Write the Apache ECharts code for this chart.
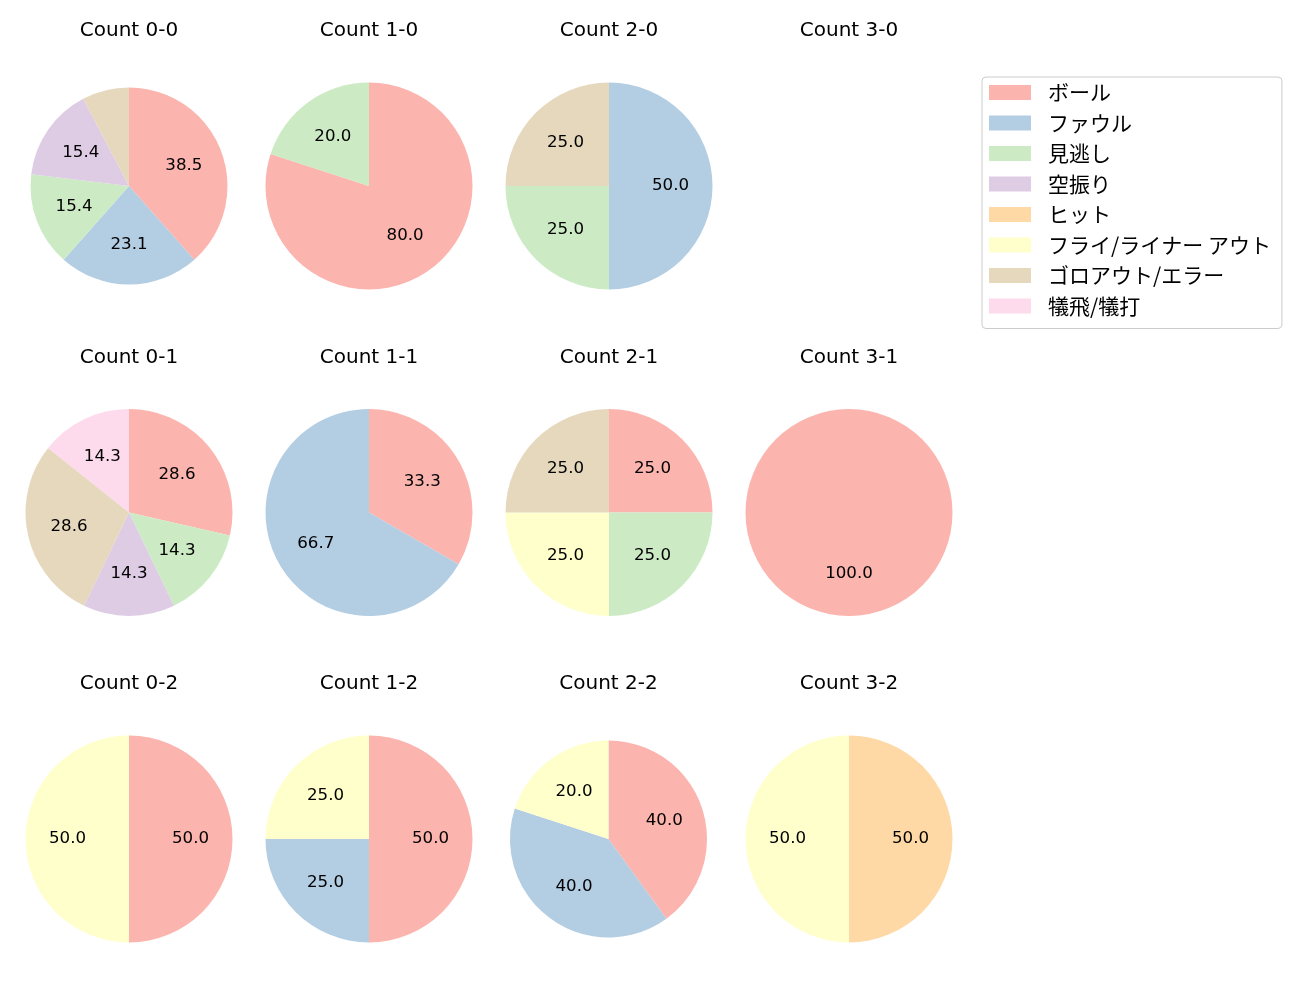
<!DOCTYPE html>
<html>
<head>
<meta charset="utf-8">
<script src="https://cdn.jsdelivr.net/npm/echarts@6/dist/echarts.min.js"></script>
<style>
  html, body { margin: 0; padding: 0; background: #fff; }
  #main { width: 1300px; height: 1000px; }
</style>
</head>
<body>
<div id="main"></div>
<script>
// 球種カテゴリ（凡例の順）
var categories = ['ボール', 'ファウル', '見逃し', '空振り', 'ヒット', 'フライ/ライナー アウト', 'ゴロアウト/エラー', '犠飛/犠打'];
var colors = ['#fbb4ae', '#b3cde3', '#ccebc5', '#decbe4', '#fed9a6', '#ffffcc', '#e5d8bd', '#fddaec'];

// 各カウントの件数（categories と同じ順）
var count00 = [5, 3, 2, 2, 0, 0, 1, 0];
var count10 = [4, 0, 1, 0, 0, 0, 0, 0];
var count20 = [0, 2, 1, 0, 0, 0, 1, 0];
var count30 = [0, 0, 0, 0, 0, 0, 0, 0];
var count01 = [2, 0, 1, 1, 0, 0, 2, 1];
var count11 = [1, 2, 0, 0, 0, 0, 0, 0];
var count21 = [1, 0, 1, 0, 0, 1, 1, 0];
var count31 = [1, 0, 0, 0, 0, 0, 0, 0];
var count02 = [1, 0, 0, 0, 0, 1, 0, 0];
var count12 = [2, 1, 0, 0, 0, 1, 0, 0];
var count22 = [2, 2, 0, 0, 0, 1, 0, 0];
var count32 = [0, 0, 0, 0, 1, 1, 0, 0];

var panels = [
  {title: 'Count 0-0', data: count00, x: 129, y: 186, r: 98.5},
  {title: 'Count 1-0', data: count10, x: 369, y: 186, r: 103.5},
  {title: 'Count 2-0', data: count20, x: 609, y: 186, r: 103.5},
  {title: 'Count 3-0', data: count30, x: 849, y: 186, r: 103.5},
  {title: 'Count 0-1', data: count01, x: 129, y: 512.5, r: 103.5},
  {title: 'Count 1-1', data: count11, x: 369, y: 512.5, r: 103.5},
  {title: 'Count 2-1', data: count21, x: 609, y: 512.5, r: 103.5},
  {title: 'Count 3-1', data: count31, x: 849, y: 512.5, r: 103.5},
  {title: 'Count 0-2', data: count02, x: 129, y: 839, r: 103.5},
  {title: 'Count 1-2', data: count12, x: 369, y: 839, r: 103.5},
  {title: 'Count 2-2', data: count22, x: 608.5, y: 839, r: 98.5},
  {title: 'Count 3-2', data: count32, x: 849, y: 839, r: 103.5}
];

var LATIN = '"DejaVu Sans", "Noto Sans CJK JP", sans-serif';
var CJK = '"Noto Sans CJK JP", "DejaVu Sans", sans-serif';

var titles = [];
var series = [];

panels.forEach(function (p) {
  var total = p.data.reduce(function (a, b) { return a + b; }, 0);
  var items = [];
  p.data.forEach(function (v, k) {
    if (v > 0) {
      items.push({name: categories[k], value: v, itemStyle: {color: colors[k]}});
    }
  });

  titles.push({
    text: p.title,
    left: p.x,
    top: p.y - 165,
    textAlign: 'center',
    padding: 0,
    textStyle: {fontFamily: LATIN, fontSize: 20, fontWeight: 'normal', color: '#000'}
  });

  if (!items.length) return;

  // 塗り
  series.push({
    type: 'pie',
    center: [p.x, p.y],
    radius: [0, p.r],
    startAngle: 90,
    clockwise: true,
    animation: false,
    silent: true,
    label: {show: false},
    labelLine: {show: false},
    itemStyle: {borderWidth: 0},
    emphasis: {disabled: true},
    data: items
  });

  // ラベル
  series.push({
    type: 'pie',
    center: [p.x, p.y],
    radius: [p.r * 0.13, p.r],
    startAngle: 90,
    clockwise: true,
    animation: false,
    silent: true,
    itemStyle: {color: 'rgba(0,0,0,0)', borderWidth: 0},
    emphasis: {disabled: true},
    labelLine: {show: false},
    label: {
      show: true,
      position: 'inside',
      fontFamily: LATIN,
      fontSize: 16.67,
      color: '#000',
      formatter: function (d) {
        var pct = d.value / total * 100;
        return pct < 10 ? '' : pct.toFixed(1);
      }
    },
    data: items.map(function (it) { return {name: it.name, value: it.value}; })
  });
});

var myChart = echarts.init(document.getElementById('main'));
myChart.setOption({
  backgroundColor: '#fff',
  animation: false,
  title: titles,
  legend: {
    orient: 'vertical',
    left: 982,
    top: 77,
    data: categories,
    icon: 'rect',
    itemWidth: 42,
    itemHeight: 15,
    itemGap: 9.5,
    padding: [5, 11, 12, 7],
    borderColor: '#cccccc',
    borderWidth: 1,
    borderRadius: 4,
    selectedMode: false,
    textStyle: {fontFamily: CJK, fontSize: 21, color: '#000', lineHeight: 21, padding: [0, 0, 0, 12]}
  },
  series: series
});
</script>
</body>
</html>
